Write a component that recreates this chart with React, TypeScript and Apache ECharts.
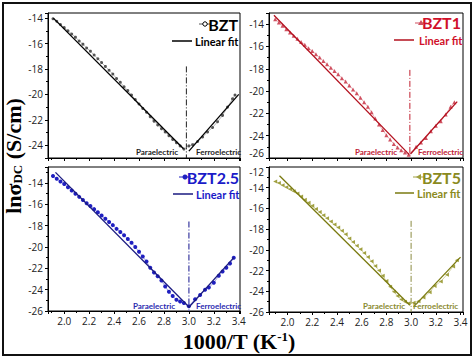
import { useEffect, useRef } from "react";
import * as echarts from "echarts";

// ---------- Data ----------
// BZT
const bztX = [1.91, 1.94, 1.97, 2.0, 2.03, 2.06, 2.09, 2.12, 2.15, 2.18, 2.21, 2.24, 2.27, 2.3, 2.33, 2.36, 2.39, 2.42, 2.45, 2.48, 2.51, 2.54, 2.57, 2.6, 2.63, 2.66, 2.69, 2.72, 2.75, 2.78, 2.81, 2.84, 2.87, 2.9, 2.93, 2.96, 3.0, 3.03, 3.07, 3.11, 3.15, 3.19, 3.23, 3.27, 3.31, 3.35, 3.37];
const bztY = [-14.05, -14.25, -14.5, -14.75, -15.0, -15.25, -15.5, -15.8, -16.05, -16.35, -16.6, -16.9, -17.2, -17.5, -17.8, -18.1, -18.4, -18.75, -19.05, -19.4, -19.7, -20.05, -20.4, -20.75, -21.1, -21.4, -21.75, -22.1, -22.4, -22.7, -22.95, -23.25, -23.55, -23.8, -24.05, -24.3, -24.05, -23.95, -23.7, -23.35, -22.95, -22.6, -22.15, -21.65, -21.0, -20.35, -20.05];
const bztParaFitX = [1.913, 2.957];
const bztParaFitY = [-14.0, -24.27];
const bztFerroFitX = [3.0, 3.4];
const bztFerroFitY = [-24.46, -20.0];
const bztTc = 2.98;
const bztTcTop = -17.8;

// BZT1
const bzt1X = [1.9, 1.93, 1.96, 1.99, 2.02, 2.05, 2.08, 2.11, 2.14, 2.17, 2.2, 2.23, 2.26, 2.29, 2.32, 2.35, 2.38, 2.41, 2.44, 2.47, 2.5, 2.53, 2.56, 2.59, 2.62, 2.65, 2.68, 2.71, 2.74, 2.77, 2.8, 2.83, 2.86, 2.89, 2.92, 2.95, 2.98, 3.04, 3.08, 3.12, 3.16, 3.2, 3.24, 3.28, 3.32, 3.35];
const bzt1Y = [-13.55, -13.85, -14.15, -14.45, -14.75, -15.05, -15.3, -15.6, -15.85, -16.15, -16.4, -16.7, -17.0, -17.3, -17.6, -17.9, -18.2, -18.5, -18.85, -19.15, -19.5, -19.85, -20.2, -20.6, -21.0, -21.4, -21.9, -22.45, -23.0, -23.5, -23.95, -24.35, -24.75, -25.05, -25.3, -25.5, -25.7, -25.0, -24.6, -24.2, -23.6, -23.1, -22.7, -22.1, -21.4, -21.0];
const bzt1ParaFitX = [1.89, 2.985];
const bzt1ParaFitY = [-13.2, -25.7];
const bzt1FerroFitX = [2.995, 3.373];
const bzt1FerroFitY = [-25.64, -20.94];
const bzt1Tc = 2.99;
const bzt1TcTop = -18.1;

// BZT2.5
const bzt25X = [1.91, 1.94, 1.97, 2.0, 2.03, 2.06, 2.09, 2.12, 2.15, 2.18, 2.21, 2.24, 2.27, 2.3, 2.33, 2.36, 2.39, 2.42, 2.45, 2.48, 2.51, 2.54, 2.57, 2.6, 2.63, 2.66, 2.69, 2.72, 2.75, 2.78, 2.81, 2.84, 2.87, 2.9, 2.93, 2.96, 3.0, 3.05, 3.09, 3.13, 3.16, 3.2, 3.24, 3.27, 3.3, 3.33, 3.36];
const bzt25Y = [-13.35, -13.6, -13.85, -14.1, -14.4, -14.7, -15.0, -15.3, -15.6, -15.9, -16.15, -16.45, -16.75, -17.05, -17.35, -17.65, -17.95, -18.3, -18.6, -18.9, -19.25, -19.6, -20.0, -20.45, -20.9, -21.35, -21.95, -22.4, -22.75, -23.15, -23.7, -24.2, -24.6, -24.95, -25.1, -25.25, -25.55, -24.9, -24.5, -24.0, -23.8, -23.35, -22.7, -22.3, -21.95, -21.55, -21.0];
const bzt25ParaFitX = [1.93, 3.005];
const bzt25ParaFitY = [-13.0, -25.67];
const bzt25FerroFitX = [3.0, 3.36];
const bzt25FerroFitY = [-25.65, -21.0];
const bzt25Tc = 3.0;
const bzt25TcTop = -17.6;

// BZT5
const bzt5X = [1.9, 1.93, 1.96, 1.99, 2.02, 2.05, 2.08, 2.11, 2.14, 2.17, 2.2, 2.23, 2.26, 2.29, 2.32, 2.35, 2.38, 2.41, 2.44, 2.47, 2.5, 2.53, 2.56, 2.59, 2.62, 2.65, 2.68, 2.71, 2.74, 2.77, 2.8, 2.83, 2.86, 2.89, 2.92, 2.95, 2.98, 3.02, 3.06, 3.1, 3.15, 3.19, 3.24, 3.29, 3.34, 3.37];
const bzt5Y = [-13.4, -13.55, -13.75, -13.95, -14.15, -14.35, -14.55, -14.85, -15.15, -15.45, -15.75, -16.05, -16.35, -16.65, -16.95, -17.25, -17.55, -17.85, -18.15, -18.5, -18.9, -19.25, -19.6, -19.95, -20.3, -20.7, -21.1, -21.55, -22.0, -22.5, -23.0, -23.55, -24.05, -24.45, -24.8, -25.0, -25.15, -25.1, -24.95, -24.6, -24.1, -23.5, -23.05, -22.4, -21.6, -21.0];
const bzt5ParaFitX = [1.935, 2.99];
const bzt5ParaFitY = [-12.85, -25.35];
const bzt5FerroFitX = [3.02, 3.4];
const bzt5FerroFitY = [-25.5, -20.7];
const bzt5Tc = 3.0;
const bzt5TcTop = -17.2;

// Axes
const xRanges = [[1.87, 3.41], [1.85, 3.42], [1.87, 3.41], [1.85, 3.42]];
const yRanges = [[-25, -13.6], [-26, -13], [-26, -12.5], [-26, -12]];
const sampleNames = ["BZT", "BZT1", "BZT2.5", "BZT5"];

// ---------- Styling ----------
const GRIDS = [
  { left: 48, top: 13, width: 192, height: 145 },
  { left: 269, top: 13, width: 194, height: 145 },
  { left: 48, top: 167, width: 192, height: 144 },
  { left: 269, top: 167, width: 194, height: 145 },
];
const PANELS = [
  { x: bztX, y: bztY, px: bztParaFitX, py: bztParaFitY, fx: bztFerroFitX, fy: bztFerroFitY, tc: bztTc, tcTop: bztTcTop,
    dataColor: "#555", dataLine: "#888", symbol: "circle", symbolSize: 3, rotate: 0, fit: "#000", title: "#000", text: "#222", tcColor: "#222", tcWidth: 1 },
  { x: bzt1X, y: bzt1Y, px: bzt1ParaFitX, py: bzt1ParaFitY, fx: bzt1FerroFitX, fy: bzt1FerroFitY, tc: bzt1Tc, tcTop: bzt1TcTop,
    dataColor: "#d05060", dataLine: "#d88890", symbol: "triangle", symbolSize: 4, rotate: 0, fit: "#b3101e", title: "#d0102a", text: "#c02035", tcColor: "#c02030", tcWidth: 1 },
  { x: bzt25X, y: bzt25Y, px: bzt25ParaFitX, py: bzt25ParaFitY, fx: bzt25FerroFitX, fy: bzt25FerroFitY, tc: bzt25Tc, tcTop: bzt25TcTop,
    dataColor: "#1f1fc0", dataLine: "#6060d0", symbol: "circle", symbolSize: 4, rotate: 0, fit: "#1a1a80", title: "#1a1ac8", text: "#2a2ab0", tcColor: "#6a6ab8", tcWidth: 1.6 },
  { x: bzt5X, y: bzt5Y, px: bzt5ParaFitX, py: bzt5ParaFitY, fx: bzt5FerroFitX, fy: bzt5FerroFitY, tc: bzt5Tc, tcTop: bzt5TcTop,
    dataColor: "#a0a040", dataLine: "#b8b870", symbol: "triangle", symbolSize: 4, rotate: 90, fit: "#7a7a10", title: "#8a8a20", text: "#8a8a30", tcColor: "#8a8a40", tcWidth: 1 },
];

const LEGEND_POS = [
  { sym: [205, 24], titleX: 238, titleY: 24, lineX: [172, 192], lineY: 41, fitX: 195 },
  { sym: [421, 23], titleX: 461, titleY: 22, lineX: [394, 414], lineY: 40, fitX: 419 },
  { sym: [185, 177], titleX: 239, titleY: 177, lineX: [173, 193], lineY: 194, fitX: 196 },
  { sym: [419, 177], titleX: 461, titleY: 177, lineX: [395, 414], lineY: 193, fitX: 417 },
];
const PHASE_POS = [
  { paraX: 157, ferroX: 196, y: 152 },
  { paraX: 376, ferroX: 418, y: 152 },
  { paraX: 154, ferroX: 196, y: 306 },
  { paraX: 384, ferroX: 413, y: 306 },
];

const SANS = "Open Sans";
const LEG = "Lato";
const SERIF = "Liberation Serif";

function zip(xs: number[], ys: number[]) {
  return xs.map((v, i) => [v, ys[i]]);
}

function buildOption() {
  const series: any[] = [];
  PANELS.forEach((p, i) => {
    series.push({
      type: "line", xAxisIndex: i, yAxisIndex: i, data: zip(p.x, p.y),
      symbol: p.symbol, symbolSize: p.symbolSize, symbolRotate: p.rotate, showSymbol: true,
      itemStyle: { color: p.dataColor }, lineStyle: { color: p.dataLine, width: 0.6 }, z: 3,
    });
    series.push({
      type: "line", xAxisIndex: i, yAxisIndex: i, data: zip(p.px, p.py),
      symbol: "none", lineStyle: { color: p.fit, width: 1.3 }, z: 4,
    });
    series.push({
      type: "line", xAxisIndex: i, yAxisIndex: i, data: zip(p.fx, p.fy),
      symbol: "none", lineStyle: { color: p.fit, width: 1.3 }, z: 4,
    });
    series.push({
      type: "line", xAxisIndex: i, yAxisIndex: i, data: [[p.tc, p.tcTop], [p.tc, yRanges[i][0]]],
      symbol: "none", lineStyle: { color: p.tcColor, width: p.tcWidth, type: [6, 2, 1, 2] }, z: 2,
    });
  });

  const graphic: any[] = [
    { type: "rect", shape: { x: 3, y: 3, width: 468, height: 352 }, style: { fill: "none", stroke: "#111", lineWidth: 2 }, z: 100 },
    {
      type: "text", x: 13, y: 156, rotation: Math.PI / 2, z: 100,
      style: {
        text: "{a|lnσ}{b|DC}{a| (S/cm)}", textAlign: "center", verticalAlign: "middle", textVerticalAlign: "middle",
        rich: {
          a: { fontSize: 22, fontWeight: "bold", fontFamily: SERIF, fill: "#000" },
          b: { fontSize: 13, fontWeight: "bold", fontFamily: SERIF, fill: "#000", verticalAlign: "bottom" },
        },
      },
    },
    {
      type: "text", x: 239, y: 341, z: 100,
      style: {
        text: "{a|1000/T (K}{s|-1}{a|)}", textAlign: "center", verticalAlign: "middle", textVerticalAlign: "middle",
        rich: {
          a: { fontSize: 22, fontWeight: "bold", fontFamily: SERIF, fill: "#000" },
          s: { fontSize: 13, fontWeight: "bold", fontFamily: SERIF, fill: "#000", verticalAlign: "top" },
        },
      },
    },
  ];

  PANELS.forEach((p, i) => {
    const L = LEGEND_POS[i];
    const [sx, sy] = L.sym;
    graphic.push({ type: "line", shape: { x1: sx - 6, y1: sy, x2: sx + 6, y2: sy }, style: { stroke: p.dataColor, lineWidth: 1 }, z: 100 });
    if (i === 0) {
      graphic.push({ type: "circle", shape: { cx: sx, cy: sy, r: 2.2 }, style: { fill: "#fff", stroke: "#000", lineWidth: 1 }, z: 101 });
    } else if (i === 1) {
      graphic.push({ type: "polygon", shape: { points: [[sx, sy - 3], [sx - 3, sy + 2], [sx + 3, sy + 2]] }, style: { fill: p.dataColor }, z: 101 });
    } else if (i === 2) {
      graphic.push({ type: "circle", shape: { cx: sx, cy: sy, r: 2.5 }, style: { fill: p.dataColor }, z: 101 });
    } else {
      graphic.push({ type: "polygon", shape: { points: [[sx - 3, sy], [sx + 2, sy - 3], [sx + 2, sy + 3]] }, style: { fill: p.dataColor }, z: 101 });
    }
    graphic.push({
      type: "text", x: L.titleX, y: L.titleY, z: 100,
      style: { text: sampleNames[i], fill: p.title, font: `bold 16px ${LEG}`, textAlign: "right", verticalAlign: "middle", textVerticalAlign: "middle" },
    });
    graphic.push({ type: "line", shape: { x1: L.lineX[0], y1: L.lineY, x2: L.lineX[1], y2: L.lineY }, style: { stroke: p.fit, lineWidth: 1.5 }, z: 100 });
    graphic.push({
      type: "text", x: L.fitX, y: L.lineY, z: 100,
      style: { text: "Linear fit", fill: p.title, font: `bold 11px ${LEG}`, textAlign: "left", verticalAlign: "middle", textVerticalAlign: "middle" },
    });
    const Ph = PHASE_POS[i];
    graphic.push({
      type: "text", x: Ph.paraX, y: Ph.y, z: 100,
      style: { text: "Paraelectric", fill: p.text, font: `bold 8px ${LEG}`, textAlign: "center", verticalAlign: "middle", textVerticalAlign: "middle" },
    });
    graphic.push({
      type: "text", x: Ph.ferroX, y: Ph.y, z: 100,
      style: { text: "Ferroelectric", fill: p.text, font: `bold 8px ${LEG}`, textAlign: "left", verticalAlign: "middle", textVerticalAlign: "middle" },
    });
  });

  const isMult = (v: number, step: number) => Math.abs(v / step - Math.round(v / step)) < 1e-6;

  return {
    animation: false,
    backgroundColor: "#fff",
    grid: GRIDS.map((g) => ({ ...g, show: true, borderColor: "#000", borderWidth: 1, backgroundColor: "transparent", containLabel: false, outerBoundsMode: "none" })),
    xAxis: xRanges.map((r, i) => ({
      type: "value", gridIndex: i, min: r[0], max: r[1], splitNumber: 8,
      axisLine: { show: true, onZero: false, lineStyle: { color: "#000", width: 1 } },
      axisTick: { show: true, inside: false, length: 3, lineStyle: { color: "#000" } },
      minorTick: { show: true, splitNumber: 2, length: 2, lineStyle: { color: "#000" } },
      splitLine: { show: false },
      axisLabel: {
        show: i >= 2, margin: 5, fontSize: 10, color: "#222", fontFamily: SANS,
        formatter: (v: number) => (isMult(v, 0.2) ? v.toFixed(1) : ""),
      },
    })),
    yAxis: yRanges.map((r, i) => {
      const ax: any = {
        type: "value", gridIndex: i, min: r[0], max: r[1],
        axisLine: { show: true, onZero: false, lineStyle: { color: "#000", width: 1 } },
        axisTick: { show: true, inside: false, length: 3, lineStyle: { color: "#000" } },
        minorTick: { show: true, splitNumber: 2, length: 2, lineStyle: { color: "#000" } },
        splitLine: { show: false },
        axisLabel: {
          margin: 5, fontSize: 10, color: "#222", fontFamily: SANS, lineHeight: 10,
          formatter: (v: number) => (isMult(v, 2) ? String(v) : ""),
        },
      };
      if (i === 0) ax.splitNumber = 5;
      else ax.interval = 2;
      if (i === 1) ax.axisLabel.verticalAlignMinLabel = "bottom";
      if (i === 3) ax.axisLabel.verticalAlignMaxLabel = "top";
      return ax;
    }),
    series,
    graphic,
  };
}

export default function App() {
  const ref = useRef<HTMLDivElement>(null);
  useEffect(() => {
    if (!ref.current) return;
    const chart = echarts.init(ref.current, undefined, { renderer: "svg" });
    chart.setOption(buildOption() as any);
    return () => chart.dispose();
  }, []);
  return <div ref={ref} style={{ position: "absolute", left: 0, top: 0, width: 474, height: 359 }} />;
}
